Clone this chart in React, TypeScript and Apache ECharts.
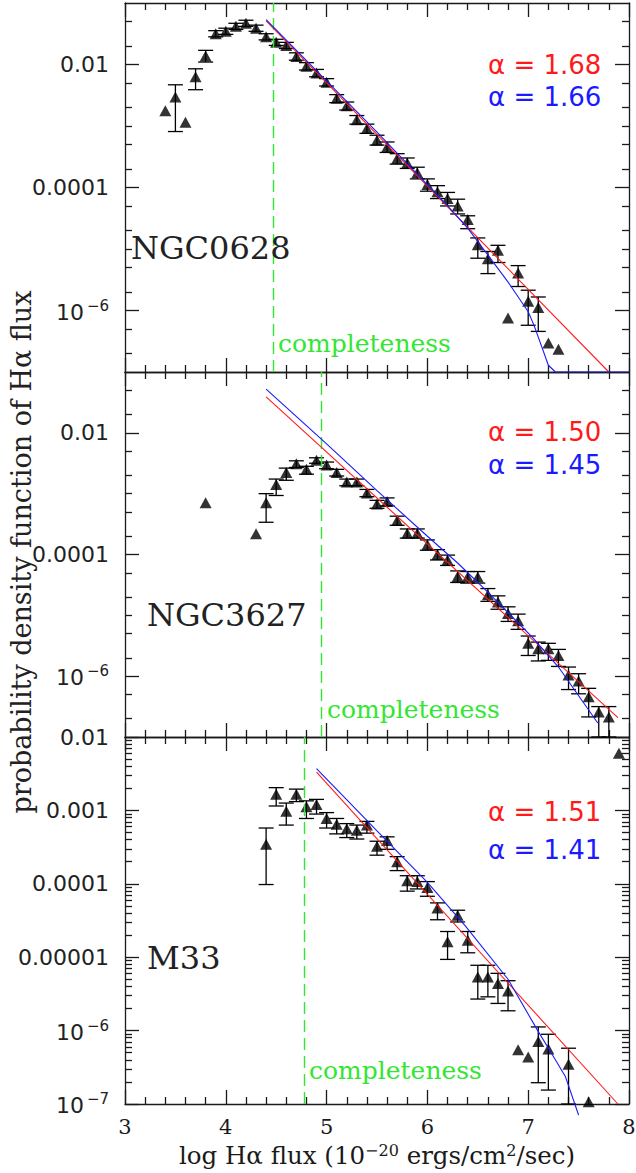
import React, { useEffect, useRef } from "react";
import * as echarts from "echarts";

// ---------- DATA (log10 of the probability density) ----------
// NGC0628
const flux628 = [3.4, 3.5, 3.6, 3.7, 3.8, 3.9, 4.0, 4.1, 4.2, 4.3, 4.4, 4.5, 4.6, 4.7, 4.8, 4.9, 5.0, 5.1, 5.2, 5.3, 5.4, 5.5, 5.6, 5.7, 5.8, 5.9, 6.0, 6.1, 6.2, 6.3, 6.4, 6.5, 6.6, 6.7, 6.8, 6.9, 7.0, 7.1, 7.2, 7.3];
const logPdf628 = [-2.75, -2.53, -2.94, -2.2, -1.86, -1.5, -1.46, -1.38, -1.33, -1.41, -1.55, -1.64, -1.69, -1.87, -2.03, -2.14, -2.29, -2.55, -2.67, -2.9, -3.04, -3.23, -3.34, -3.53, -3.6, -3.76, -3.95, -4.07, -4.18, -4.3, -4.52, -4.93, -5.16, -5.02, -6.12, -5.39, -5.85, -5.95, -6.53, -6.63];
const errLo628 = [null, -3.09, null, -2.41, -1.96, -1.55, -1.51, -1.43, -1.38, -1.46, -1.6, -1.69, -1.74, -1.93, -2.09, -2.2, -2.35, -2.62, -2.74, -2.97, -3.12, -3.31, -3.43, -3.62, -3.69, -3.86, -4.06, -4.18, -4.3, -4.43, -4.67, -5.15, -5.4, -5.22, null, -5.61, -6.24, -6.34, null, null];
const errHi628 = [null, -2.33, null, -2.07, -1.77, -1.45, -1.41, -1.33, -1.28, -1.36, -1.5, -1.59, -1.64, -1.81, -1.97, -2.08, -2.23, -2.49, -2.61, -2.83, -2.97, -3.15, -3.26, -3.45, -3.52, -3.67, -3.86, -3.97, -4.08, -4.19, -4.46, -4.82, -5.04, -4.94, null, -5.27, -5.67, -5.78, null, null];
const fitRed628 = [[4.4, -1.29], [7.8, -7.0]];
const fitBlue628 = [[4.4, -1.27], [5.5, -3.1], [6.2, -4.3], [6.4, -4.66], [6.61, -5.12], [6.81, -5.56], [7.0, -6.02], [7.06, -6.25], [7.2, -6.89], [7.27, -7.0], [8.0, -7.0]];

// NGC3627
const flux3627 = [3.8, 4.3, 4.4, 4.5, 4.6, 4.7, 4.8, 4.9, 5.0, 5.1, 5.2, 5.3, 5.4, 5.5, 5.6, 5.7, 5.8, 5.9, 6.0, 6.1, 6.2, 6.3, 6.4, 6.5, 6.6, 6.7, 6.8, 6.9, 7.0, 7.1, 7.2, 7.3, 7.4, 7.5, 7.6, 7.7, 7.8];
const logPdf3627 = [-3.15, -3.66, -3.15, -2.85, -2.65, -2.51, -2.6, -2.45, -2.53, -2.65, -2.81, -2.81, -2.99, -3.17, -3.13, -3.44, -3.65, -3.65, -3.84, -4.0, -4.09, -4.36, -4.37, -4.37, -4.66, -4.78, -4.97, -5.09, -5.46, -5.55, -5.55, -5.66, -5.98, -6.08, -6.34, -6.59, -6.67];
const errLo3627 = [null, null, -3.47, -3.03, -2.78, -2.57, -2.68, -2.5, -2.59, -2.71, -2.87, -2.87, -3.05, -3.24, -3.2, -3.52, -3.73, -3.73, -3.93, -4.09, -4.18, -4.46, -4.47, -4.47, -4.77, -4.9, -5.1, -5.23, -5.66, -5.75, -5.74, -5.84, -6.22, -6.29, -6.67, -7.0, -7.0];
const errHi3627 = [null, null, -3.0, -2.76, -2.58, -2.46, -2.55, -2.41, -2.48, -2.6, -2.76, -2.76, -2.93, -3.11, -3.07, -3.37, -3.58, -3.58, -3.76, -3.92, -4.01, -4.27, -4.28, -4.28, -4.56, -4.68, -4.86, -4.98, -5.34, -5.44, -5.46, -5.56, -5.85, -5.96, -6.2, -6.5, -6.5];
const fitRed3627 = [[4.4, -1.41], [7.89, -6.68]];
const fitBlue3627 = [[4.4, -1.28], [5.0, -2.18], [5.5, -2.95], [6.0, -3.7], [6.3, -4.14], [6.6, -4.62], [7.04, -5.36], [7.3, -5.85], [7.69, -6.77]];

// M33
const flux33 = [4.4, 4.5, 4.6, 4.7, 4.8, 4.9, 5.0, 5.1, 5.2, 5.3, 5.4, 5.5, 5.6, 5.7, 5.8, 5.9, 6.0, 6.1, 6.2, 6.3, 6.4, 6.5, 6.6, 6.7, 6.8, 6.9, 7.0, 7.1, 7.2, 7.4, 7.6, 7.9];
const logPdf33 = [-3.46, -2.78, -3.01, -2.78, -2.95, -2.92, -3.11, -3.19, -3.25, -3.27, -3.2, -3.49, -3.41, -3.7, -3.96, -3.97, -4.05, -4.33, -4.79, -4.43, -4.77, -5.27, -5.27, -5.36, -5.46, -6.26, -6.36, -6.15, -6.25, -6.46, -6.97, -2.22];
const errLo33 = [-4.01, -2.94, -3.2, -2.88, -3.11, -3.05, -3.24, -3.32, -3.37, -3.39, -3.31, -3.61, -3.53, -3.82, -4.1, -4.07, -4.17, -4.49, -5.03, -4.52, -4.94, -5.57, -5.54, -5.63, -5.73, null, null, -6.71, -6.81, -7.0, null, null];
const errHi33 = [-3.24, -2.69, -2.9, -2.71, -2.87, -2.85, -3.03, -3.11, -3.18, -3.2, -3.15, -3.42, -3.36, -3.63, -3.89, -3.89, -3.97, -4.26, -4.65, -4.36, -4.65, -5.11, -5.11, -5.22, -5.32, null, null, -5.95, -6.05, -6.24, null, null];
const fitRed33 = [[4.9, -2.48], [7.89, -7.0]];
const fitBlue33 = [[4.9, -2.43], [5.5, -3.28], [6.0, -3.98], [6.38, -4.58], [6.8, -5.3], [7.09, -5.99], [7.21, -6.26], [7.37, -6.63], [7.5, -7.15]];

const galaxyNames = ["NGC0628", "NGC3627", "M33"];
const alphaRed = ["1.68", "1.50", "1.51"];
const alphaBlue = ["1.66", "1.45", "1.41"];
const completenessLimit = [4.47, 4.95, 4.78];

const xTickLabels = [3, 4, 5, 6, 7, 8];
const yLabelExpsUpper = [-2, -4, -6];
const yLabelExpsLower = [-2, -3, -4, -5, -6, -7];

// ---------- LAYOUT / STYLE ----------
const RED = "#ff1a1a";
const BLUE = "#1a1aff";
const GREEN = "#33e633";
const INK = "#1a1a1a";
const grids = [
  { left: 125, right: 7, top: 3, height: 369, ymin: -7, ymax: -1 },
  { left: 125, right: 7, top: 372, height: 365, ymin: -7, ymax: -1 },
  { left: 125, right: 7, top: 737, height: 367, ymin: -7, ymax: -2 },
];

function minorUpper(): number[] {
  const v: number[] = [];
  for (let n = -7; n <= -2; n++) for (const k of [2, 5]) v.push(n + Math.log10(k));
  v.push(-3, -5);
  return v;
}
function minorLower(): number[] {
  const v: number[] = [];
  for (let n = -7; n <= -3; n++) for (let k = 2; k <= 9; k++) v.push(n + Math.log10(k));
  return v;
}

const fmtExp = (v: number) => {
  const e = Math.round(v);
  if (e >= -5) return Math.pow(10, e).toFixed(-e);
  return `{b|10}{s|\u2212${-e}}`;
};

function buildOption() {
  const lineStyle = { color: INK, width: 1.3 };
  const panels = [
    { flux: flux628, pdf: logPdf628, lo: errLo628, hi: errHi628, red: fitRed628, blue: fitBlue628 },
    { flux: flux3627, pdf: logPdf3627, lo: errLo3627, hi: errHi3627, red: fitRed3627, blue: fitBlue3627 },
    { flux: flux33, pdf: logPdf33, lo: errLo33, hi: errHi33, red: fitRed33, blue: fitBlue33 },
  ];
  const xAxis: any[] = [];
  const yAxis: any[] = [];
  const series: any[] = [];

  grids.forEach((g, gi) => {
    const isLast = gi === 2;
    for (const pos of ["bottom", "top"]) {
      xAxis.push({
        type: "value",
        gridIndex: gi,
        position: pos,
        min: 3,
        max: 8,
        interval: 1,
        axisLine: { show: true, onZero: false, lineStyle },
        axisTick: { show: true, inside: true, length: 14, lineStyle },
        minorTick: { show: true, splitNumber: 5, length: 7, lineStyle },
        splitLine: { show: false },
        axisLabel:
          isLast && pos === "bottom"
            ? {
                show: true,
                margin: 12,
                color: INK,
                fontFamily: "DejaVu Serif",
                fontSize: 21,
                lineHeight: 22,
                customValues: xTickLabels,
                formatter: (v: number) => String(v),
              }
            : { show: false },
      });
    }
    const majors = isLast ? yLabelExpsLower : yLabelExpsUpper;
    const minors = isLast ? minorLower() : minorUpper();
    for (const pos of ["left", "right"]) {
      yAxis.push({
        type: "value",
        gridIndex: gi,
        position: pos,
        min: g.ymin,
        max: g.ymax,
        axisLine: { show: true, onZero: false, lineStyle },
        axisTick: { show: true, inside: true, length: 14, customValues: majors, lineStyle },
        splitLine: { show: false },
        axisLabel:
          pos === "left"
            ? {
                show: true,
                margin: 16,
                color: "#222",
                fontFamily: "DejaVu Sans",
                fontSize: 22,
                customValues: majors,
                formatter: fmtExp,
                rich: {
                  b: { fontFamily: "DejaVu Sans", fontSize: 22, color: "#222", verticalAlign: "bottom" },
                  s: { fontFamily: "DejaVu Sans", fontSize: 15, color: "#222", verticalAlign: "bottom", padding: [0, 0, 10, 3] },
                },
              }
            : { show: false },
      });
      yAxis.push({
        type: "value",
        gridIndex: gi,
        position: pos,
        min: g.ymin,
        max: g.ymax,
        axisLine: { show: false, onZero: false },
        axisTick: { show: true, inside: true, length: 7, customValues: minors, lineStyle },
        splitLine: { show: false },
        axisLabel: { show: false },
      });
    }

    const p = panels[gi];
    const xi = gi * 2;
    const yi = gi * 4;
    const errData = p.flux
      .map((x, i) => (p.lo[i] == null ? null : [x, p.lo[i], p.hi[i]]))
      .filter((d) => d !== null);

    series.push({
      type: "custom",
      xAxisIndex: xi,
      yAxisIndex: yi,
      data: errData,
      z: 3,
      renderItem: (_params: any, api: any) => {
        const x = api.value(0);
        const top = api.coord([x, api.value(2)]);
        const bot = api.coord([x, api.value(1)]);
        const hw = 7.5;
        const st = { stroke: "#000", lineWidth: 1.3 };
        return {
          type: "group",
          children: [
            { type: "line", shape: { x1: top[0], y1: top[1], x2: bot[0], y2: bot[1] }, style: st },
            { type: "line", shape: { x1: top[0] - hw, y1: top[1], x2: top[0] + hw, y2: top[1] }, style: st },
            { type: "line", shape: { x1: bot[0] - hw, y1: bot[1], x2: bot[0] + hw, y2: bot[1] }, style: st },
          ],
        };
      },
    });
    series.push({
      type: "scatter",
      xAxisIndex: xi,
      yAxisIndex: yi,
      symbol: "triangle",
      symbolSize: [12, 11],
      itemStyle: { color: "#000" },
      z: 4,
      data: p.flux.map((x, i) => [x, p.pdf[i]]),
      markLine: {
        silent: true,
        symbol: ["none", "none"],
        label: { show: false },
        lineStyle: { color: GREEN, type: [12, 6], width: 1.4 },
        data: [{ xAxis: completenessLimit[gi] }],
      },
    });
    series.push({
      type: "line",
      xAxisIndex: xi,
      yAxisIndex: yi,
      data: p.red,
      symbol: "none",
      z: 5,
      lineStyle: { color: RED, width: 1.1 },
    });
    series.push({
      type: "line",
      xAxisIndex: xi,
      yAxisIndex: yi,
      data: p.blue,
      symbol: "none",
      z: 6,
      clip: gi !== 2,
      lineStyle: { color: BLUE, width: 1.1 },
    });
  });

  const txt = (text: string, x: number, y: number, size: number, family: string, fill: string, extra: any = {}) => ({
    type: "text",
    x,
    y,
    silent: true,
    z: 100,
    style: {
      text,
      fontSize: size,
      fontFamily: family,
      fill,
      align: "left",
      verticalAlign: "middle",
      textAlign: "left",
      textVerticalAlign: "middle",
      ...extra,
    },
  });

  const nameY = [248, 615, 958];
  const nameX = [131, 147, 147];
  const alphaY = [[65, 97], [432, 465], [812, 850]];
  const complY = [343, 709, 1070];
  const complX = [278, 327, 309];

  const graphic: any[] = [];
  for (let i = 0; i < 3; i++) {
    graphic.push(txt(galaxyNames[i], nameX[i], nameY[i], 32, "DejaVu Serif", "#222"));
    graphic.push(txt(`\u03b1 = ${alphaRed[i]}`, 488, alphaY[i][0], 26, "DejaVu Sans", RED));
    graphic.push(txt(`\u03b1 = ${alphaBlue[i]}`, 488, alphaY[i][1], 26, "DejaVu Sans", BLUE));
    graphic.push(txt("completeness", complX[i], complY[i], 25, "DejaVu Serif", GREEN));
  }
  graphic.push(
    txt("log H\u03b1 flux (10{s|\u221220} ergs/cm{s|2}/sec)", 377, 1155, 24.5, "DejaVu Serif", INK, {
      align: "center",
      textAlign: "center",
      lineHeight: 26,
      rich: {
        s: { fontSize: 16, lineHeight: 16, fontFamily: "DejaVu Serif", fill: INK, color: INK, verticalAlign: "bottom", padding: [0, 0, 10, 0] },
      },
    })
  );
  graphic.push({
    type: "text",
    x: 21,
    y: 552,
    rotation: Math.PI / 2,
    silent: true,
    z: 100,
    style: {
      text: "probability density function of H\u03b1 flux",
      fontSize: 27,
      fontFamily: "DejaVu Serif",
      fill: "#222",
      align: "center",
      verticalAlign: "middle",
      textAlign: "center",
      textVerticalAlign: "middle",
    },
  });

  return {
    animation: false,
    backgroundColor: "#fff",
    grid: grids.map((g) => ({ left: g.left, right: g.right, top: g.top, height: g.height, containLabel: false, outerBoundsMode: "none" })),
    xAxis,
    yAxis,
    series,
    graphic,
  };
}

export default function App() {
  const ref = useRef<HTMLDivElement>(null);
  useEffect(() => {
    document.body.style.margin = "0";
    const chart = echarts.init(ref.current as HTMLDivElement, null, { renderer: "svg" });
    chart.setOption(buildOption() as any);
    return () => chart.dispose();
  }, []);
  return <div ref={ref} style={{ width: 636, height: 1173, background: "#fff" }} />;
}
